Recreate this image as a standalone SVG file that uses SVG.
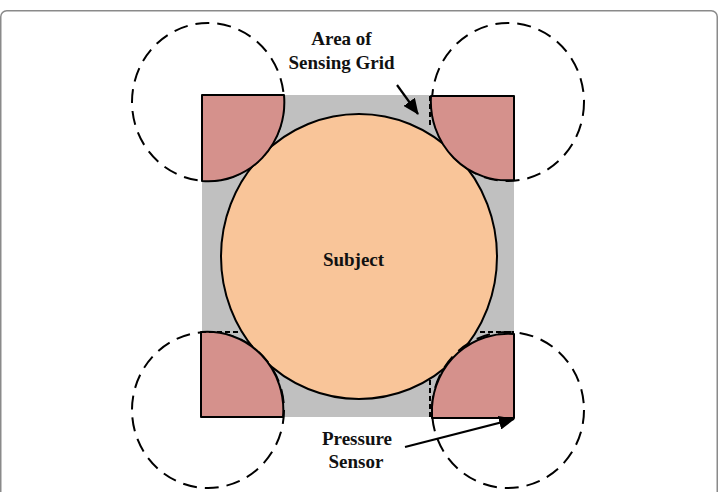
<svg xmlns="http://www.w3.org/2000/svg" width="719" height="492" viewBox="0 0 719 492">
<defs>
<style>
.lbl{font-family:"Liberation Serif","Times New Roman",serif;font-weight:bold;font-size:19px;fill:#111;text-anchor:middle}
.sensor{fill:#d5918c;stroke:#000;stroke-width:2;stroke-linejoin:round}
.range{fill:none;stroke:#000;stroke-width:2;stroke-dasharray:14 8}
.edge{fill:none;stroke:#000;stroke-width:2;stroke-dasharray:5 3}
.arrow{fill:none;stroke:#000;stroke-width:2.2}
</style>
<marker id="ah" viewBox="0 0 16 14" refX="15" refY="7" markerWidth="16" markerHeight="14" markerUnits="userSpaceOnUse" orient="auto">
<path d="M0,0 L16,7 L0,14 Z" fill="#000"/>
</marker>
</defs>
<rect x="0.75" y="10.75" width="716.5" height="500" rx="6" fill="#fff" stroke="#8a8a8a" stroke-width="1.5"/>
<g id="grid">
<rect x="202" y="95" width="312" height="322" fill="#c0c0c0"/>
</g>
<g id="subject">
<ellipse cx="359" cy="256.5" rx="138" ry="142.5" fill="#f9c599" stroke="#000" stroke-width="2"/>
<text class="lbl" x="353.5" y="266">Subject</text>
</g>
<g id="sensor-tl">
<ellipse class="range" cx="208" cy="102" rx="76" ry="79"/>
<path class="sensor" d="M202,181 L202,95 L284,95 A76,79 0 0 1 202,181 Z"/>
</g>
<g id="sensor-tr">
<ellipse class="range" cx="508" cy="102" rx="76" ry="79"/>
<path class="sensor" d="M431,96 L514,96 L514,180 A76,79 0 0 1 431,96 Z"/>
<line class="edge" x1="430" y1="96" x2="430" y2="128"/>
</g>
<g id="sensor-bl">
<ellipse class="range" cx="208" cy="410" rx="76" ry="78"/>
<path class="sensor" d="M201,332 A76,78 0 0 1 283,417 L201,417 Z"/>
<line class="edge" x1="201" y1="332" x2="240" y2="332"/>
</g>
<g id="sensor-br">
<ellipse class="range" cx="508" cy="410" rx="76" ry="78"/>
<path class="sensor" d="M432,407 A76,78 0 0 1 514,334 L514,418 L432,418 Z"/>
<line class="edge" x1="480" y1="332" x2="514" y2="332"/>
<line class="edge" x1="430" y1="380" x2="430" y2="418"/>
</g>
<g id="label-grid">
<text class="lbl" x="341.5" y="45">Area of</text>
<text class="lbl" x="341.5" y="69">Sensing Grid</text>
</g>
<g id="label-sensor">
<text class="lbl" x="357" y="445">Pressure</text>
<text class="lbl" x="356" y="468">Sensor</text>
</g>
<g id="connectors">
<line class="arrow" x1="397" y1="85" x2="418" y2="114" marker-end="url(#ah)"/>
<line class="arrow" x1="405" y1="447" x2="514" y2="419" marker-end="url(#ah)"/>
</g>
</svg>
